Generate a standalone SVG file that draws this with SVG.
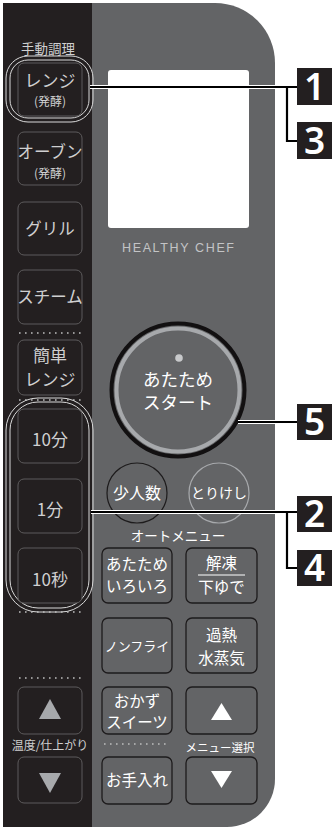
<svg xmlns="http://www.w3.org/2000/svg" width="335" height="830" viewBox="0 0 335 830">
<defs>
<style>
.jp{font-family:"Noto Sans CJK JP","Noto Sans",sans-serif;text-anchor:middle}
.dk{fill:#cfcfd0}
.wt{fill:#ffffff}
.dbtn{fill:#231f20;stroke:#5d5b5c;stroke-width:1}
.gbtn{fill:#636466;stroke:#1d1b1c;stroke-width:1.3}
.ring{fill:none;stroke:#d9d9d9;stroke-width:1}
.dots{stroke:#bdbdbd;stroke-width:1.6;stroke-dasharray:1.6 4.4}
.halo{stroke:#ffffff;stroke-width:4;fill:none}
.lead{stroke:#000000;stroke-width:2.2;fill:none}
.cbox{fill:#231f20}
.cnum{font-family:"Noto Sans","Liberation Sans",sans-serif;font-weight:600;font-size:37px;fill:#ffffff;text-anchor:middle}
</style>
</defs>
<rect width="335" height="830" fill="#ffffff"/>
<g id="panel">
<path d="M90 3 H215 A60 60 0 0 1 275 63 V779 A48 48 0 0 1 227 827 H90 Z" fill="#636466"/>
<rect x="3" y="3" width="89" height="824" fill="#231f20"/>
</g>
<g id="display">
<rect x="108" y="70" width="141" height="158" rx="3" fill="#ffffff"/>
<text x="178" y="252" font-family="Liberation Sans,Arial,sans-serif" font-size="12.5" fill="#c3c4c6" text-anchor="middle" textLength="112">HEALTHY CHEF</text>
</g>
<g id="label-manual"><text class="jp dk" x="48" y="54" font-size="13.5">手動調理</text></g>
<g id="btn-range">
<rect class="ring" x="6" y="56" width="87" height="66" rx="22"/>
<rect class="ring" x="10" y="60" width="79" height="58" rx="18"/>
<rect class="dbtn" x="18" y="63" width="64" height="53" rx="6"/>
<text class="jp dk" x="50" y="87" font-size="17">レンジ</text>
<text class="jp dk" x="50" y="106" font-size="12">(発酵)</text>
</g>
<g id="btn-oven">
<rect class="dbtn" x="18" y="132" width="64" height="53" rx="6"/>
<text class="jp dk" x="50" y="158" font-size="16.5">オーブン</text>
<text class="jp dk" x="50" y="178" font-size="12">(発酵)</text>
</g>
<g id="btn-grill">
<rect class="dbtn" x="18" y="202" width="64" height="53" rx="6"/>
<text class="jp dk" x="50" y="235" font-size="16.5">グリル</text>
</g>
<g id="btn-steam">
<rect class="dbtn" x="18" y="270" width="64" height="54" rx="6"/>
<text class="jp dk" x="50" y="303" font-size="16.5">スチーム</text>
</g>
<line class="dots" x1="19" y1="333" x2="82" y2="333"/>
<g id="btn-easy">
<rect class="dbtn" x="18" y="340" width="64" height="55" rx="6"/>
<text class="jp dk" x="50" y="362" font-size="17">簡単</text>
<text class="jp dk" x="50" y="386" font-size="17">レンジ</text>
</g>
<line class="dots" x1="19" y1="400" x2="82" y2="400"/>
<g id="group-time">
<rect class="ring" x="6" y="398" width="87" height="214" rx="32"/>
<rect class="ring" x="10" y="402" width="79" height="206" rx="28"/>
</g>
<g id="btn-10min">
<rect class="dbtn" x="18" y="409" width="64" height="54" rx="6"/>
<text class="jp dk" x="50" y="446" font-size="17">10分</text>
</g>
<g id="btn-1min">
<rect class="dbtn" x="18" y="479" width="64" height="54" rx="6"/>
<text class="jp dk" x="50" y="516" font-size="17">1分</text>
</g>
<g id="btn-10sec">
<rect class="dbtn" x="18" y="548" width="64" height="55" rx="6"/>
<text class="jp dk" x="50" y="586" font-size="17">10秒</text>
</g>
<line class="dots" x1="19" y1="612" x2="82" y2="612"/>
<line class="dots" x1="19" y1="678" x2="82" y2="678"/>
<g id="btn-temp-up">
<rect class="dbtn" x="18" y="687" width="64" height="47" rx="6"/>
<polygon points="50,699 61,719 39,719" fill="#a7a9ac"/>
</g>
<g id="label-temp"><text class="jp dk" x="50" y="750" font-size="12">温度/仕上がり</text></g>
<g id="btn-temp-down">
<rect class="dbtn" x="18" y="757" width="64" height="46" rx="6"/>
<polygon points="39,773 61,773 50,793" fill="#a7a9ac"/>
</g>
<g id="btn-start">
<circle cx="178" cy="390" r="66.5" fill="#636466" stroke="#121011" stroke-width="4"/>
<circle cx="178" cy="390" r="61.5" fill="none" stroke="#a7a9ac" stroke-width="4"/>
<circle cx="179" cy="358" r="3.8" fill="#c8c9cb"/>
<text class="jp wt" x="178" y="385.5" font-size="17.5">あたため</text>
<text class="jp wt" x="178" y="409" font-size="17.5">スタート</text>
</g>
<g id="btn-few">
<circle cx="137" cy="493" r="30" fill="#636466" stroke="#1d1b1c" stroke-width="1.2"/>
<text class="jp wt" x="137" y="499" font-size="16">少人数</text>
</g>
<g id="btn-cancel">
<circle cx="219" cy="493" r="30" fill="#636466" stroke="#a7a9ac" stroke-width="1.2"/>
<text class="jp wt" x="219" y="498" font-size="14">とりけし</text>
</g>
<g id="label-auto"><text class="jp wt" x="178" y="541" font-size="13.5">オートメニュー</text></g>
<g id="btn-warm">
<rect class="gbtn" x="102" y="548" width="70" height="55" rx="6"/>
<text class="jp wt" x="137" y="570" font-size="15.5">あたため</text>
<text class="jp wt" x="137" y="592" font-size="15.5">いろいろ</text>
</g>
<g id="btn-thaw">
<rect class="gbtn" x="186" y="548" width="71" height="55" rx="6"/>
<text class="jp wt" x="221.5" y="569" font-size="15.5">解凍</text>
<line x1="198" y1="575" x2="245" y2="575" stroke="#ffffff" stroke-width="1"/>
<text class="jp wt" x="221.5" y="593" font-size="15.5">下ゆで</text>
</g>
<g id="btn-nonfry">
<rect class="gbtn" x="102" y="618" width="70" height="55" rx="6"/>
<text class="jp wt" x="137" y="651" font-size="13">ノンフライ</text>
</g>
<g id="btn-superheat">
<rect class="gbtn" x="186" y="618" width="71" height="55" rx="6"/>
<text class="jp wt" x="221.5" y="641" font-size="15.5">過熱</text>
<text class="jp wt" x="221.5" y="664" font-size="15.5">水蒸気</text>
</g>
<g id="btn-okazu">
<rect class="gbtn" x="102" y="687" width="70" height="47" rx="6"/>
<text class="jp wt" x="137" y="707" font-size="15.5">おかず</text>
<text class="jp wt" x="137" y="728" font-size="15.5">スイーツ</text>
</g>
<g id="btn-menu-up">
<rect class="gbtn" x="186" y="687" width="71" height="47" rx="6"/>
<polygon points="221.5,703 232,720 211,720" fill="#ffffff"/>
</g>
<line class="dots" x1="104" y1="744" x2="170" y2="744"/>
<g id="label-menu"><text class="jp wt" x="220" y="752" font-size="11.5">メニュー選択</text></g>
<g id="btn-care">
<rect class="gbtn" x="102" y="757" width="70" height="47" rx="6"/>
<text class="jp wt" x="137" y="786" font-size="15.5">お手入れ</text>
</g>
<g id="btn-menu-down">
<rect class="gbtn" x="186" y="757" width="71" height="47" rx="6"/>
<polygon points="211,771 232,771 221.5,788" fill="#ffffff"/>
</g>
<g id="connectors">
<path class="halo" d="M90 87 H298 M287 87 V141 H298"/>
<path class="halo" d="M238 422 H298"/>
<path class="halo" d="M91 512 H298 M287 512 V568 H298"/>
<path class="lead" d="M90 87 H298 M287 87 V141 H298"/>
<path class="lead" d="M238 422 H298"/>
<path class="lead" d="M91 512 H298 M287 512 V568 H298"/>
</g>
<g id="callout-1"><rect class="cbox" x="297" y="68" width="35" height="37"/><text class="cnum" x="314.5" y="100">1</text></g>
<g id="callout-3"><rect class="cbox" x="297" y="122" width="35" height="37"/><text class="cnum" x="314.5" y="154">3</text></g>
<g id="callout-5"><rect class="cbox" x="297" y="404" width="35" height="36"/><text class="cnum" x="314.5" y="435">5</text></g>
<g id="callout-2"><rect class="cbox" x="297" y="496" width="35" height="36"/><text class="cnum" x="314.5" y="527">2</text></g>
<g id="callout-4"><rect class="cbox" x="297" y="550" width="35" height="36"/><text class="cnum" x="314.5" y="581">4</text></g>
</svg>
